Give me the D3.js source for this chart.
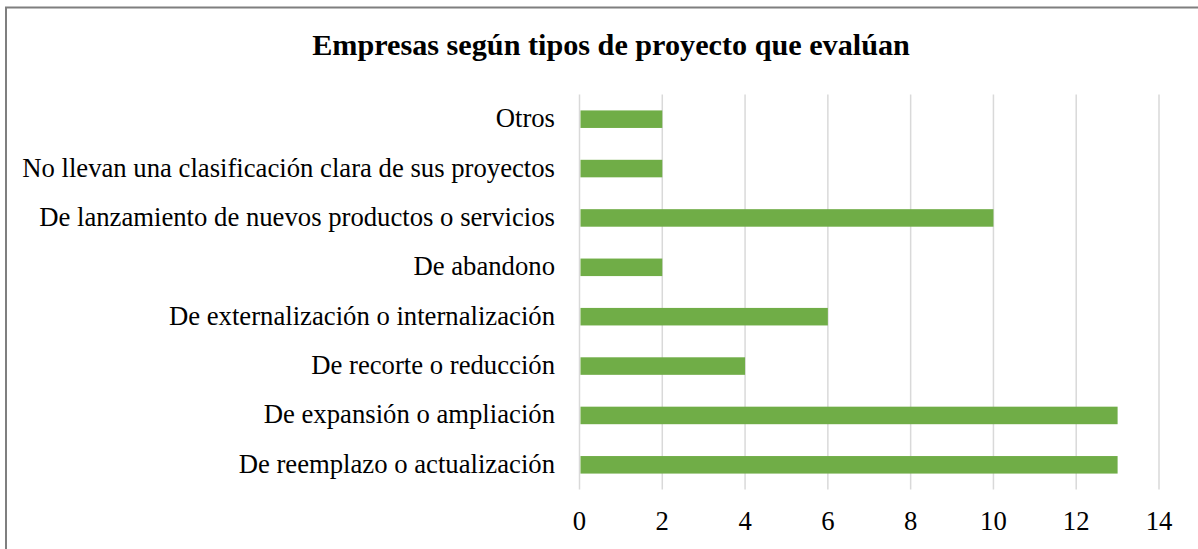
<!DOCTYPE html>
<html>
<head>
<meta charset="utf-8">
<style>
  body { margin: 0; background: #fff; }
  svg { display: block; }
</style>
</head>
<body>
<svg width="1198" height="549"></svg>
<script src="https://d3js.org/d3.v7.min.js"></script>
<script>

const categories = [
  "Otros",
  "No llevan una clasificación clara de sus proyectos",
  "De lanzamiento de nuevos productos o servicios",
  "De abandono",
  "De externalización o internalización",
  "De recorte o reducción",
  "De expansión o ampliación",
  "De reemplazo o actualización"
];
const values = [2, 2, 10, 2, 6, 4, 13, 13];
const xTicks = [0, 2, 4, 6, 8, 10, 12, 14];
const title = "Empresas según tipos de proyecto que evalúan";

const svg = d3.select("svg");
const serif = "'Liberation Serif', 'Times New Roman', serif";

// chart frame (right and bottom edges fall outside the window)
svg.append("rect")
  .attr("x", 6)
  .attr("y", 7.5)
  .attr("width", 1220)
  .attr("height", 580)
  .attr("fill", "none")
  .attr("stroke", "#7f7f7f")
  .attr("stroke-width", 2);

svg.append("text")
  .attr("x", 611)
  .attr("y", 55)
  .attr("text-anchor", "middle")
  .attr("font-family", serif)
  .attr("font-weight", "bold")
  .attr("font-size", 30.2)
  .attr("fill", "#000")
  .text(title);

const x = d3.scaleLinear()
  .domain([0, 14])
  .range([579.5, 1159]);

const y = d3.scaleBand()
  .domain(categories)
  .range([94.5, 489.5])
  .paddingInner(0.645)
  .paddingOuter(0.3225);

// gridlines
svg.append("g")
  .selectAll("line")
  .data(xTicks)
  .enter()
  .append("line")
  .attr("x1", d => x(d))
  .attr("x2", d => x(d))
  .attr("y1", 94.5)
  .attr("y2", 489.5)
  .attr("stroke", "#d9d9d9")
  .attr("stroke-width", 1.5);

// bars
svg.append("g")
  .selectAll("rect")
  .data(values)
  .enter()
  .append("rect")
  .attr("x", x(0) + 1)
  .attr("y", (d, i) => y(categories[i]))
  .attr("width", d => x(d) - x(0) - 1)
  .attr("height", y.bandwidth())
  .attr("fill", "#70ad47");

// category labels
svg.append("g")
  .selectAll("text")
  .data(categories)
  .enter()
  .append("text")
  .attr("x", 555)
  .attr("y", d => y(d) + y.bandwidth() / 2)
  .attr("dy", "0.3em")
  .attr("text-anchor", "end")
  .attr("font-family", serif)
  .attr("font-size", 26.7)
  .attr("fill", "#000")
  .text(d => d);

// x tick labels
svg.append("g")
  .selectAll("text")
  .data(xTicks)
  .enter()
  .append("text")
  .attr("x", d => x(d))
  .attr("y", 530)
  .attr("text-anchor", "middle")
  .attr("font-family", serif)
  .attr("font-size", 26.7)
  .attr("fill", "#000")
  .text(d => d);

</script>
</body>
</html>
